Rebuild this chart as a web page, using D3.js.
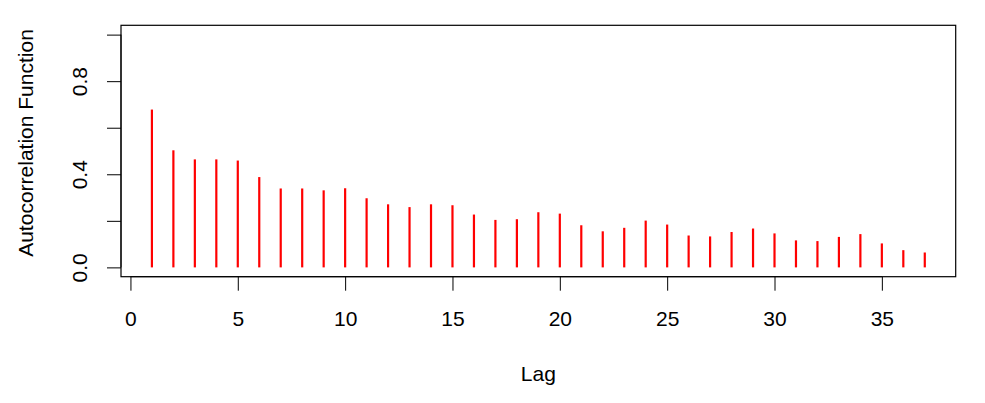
<!DOCTYPE html>
<html lang="en">
  <head>
    <meta charset="UTF-8" />
    <title>Autocorrelation Function</title>
    <script src="https://d3js.org/d3.v7.min.js"></script>
    <style>
      body {
        margin: 0;
        background: #fff;
      }
      text {
        font-family: "Liberation Sans", Arial, sans-serif;
        font-size: 21px;
        fill: #000;
      }
    </style>
  </head>
  <body>
    <svg id="acf" width="985" height="403"></svg>
    <script>
      // ACF values
      const lags = d3.range(1, 38);
      const acf = [
        0.678, 0.503, 0.464, 0.464, 0.459, 0.388, 0.339, 0.339, 0.331, 0.34,
        0.297, 0.271, 0.259, 0.271, 0.267, 0.227, 0.204, 0.207, 0.237, 0.231,
        0.181, 0.155, 0.17, 0.201, 0.184, 0.137, 0.133, 0.152, 0.167, 0.146,
        0.116, 0.113, 0.131, 0.143, 0.103, 0.074, 0.064
      ];
      const xTicks = [0, 5, 10, 15, 20, 25, 30, 35];
      const yTicks = [0, 0.2, 0.4, 0.6, 0.8, 1.0];
      const yTickLabels = ["0.0", "", "0.4", "", "0.8", ""];

      const width = 985;
      const height = 403;
      const margin = { top: 25.3, right: 29.3, bottom: 126.3, left: 121 };

      const svg = d3.select("#acf");

      // R style 4% extension of the ranges
      const x = d3
        .scaleLinear()
        .domain([1 - 36 * 0.04, 37 + 36 * 0.04])
        .range([margin.left, width - margin.right]);
      const y = d3
        .scaleLinear()
        .domain([-0.04, 1.04])
        .range([height - margin.bottom, margin.top]);

      // vertical lines (type = "h")
      svg
        .append("g")
        .selectAll("line")
        .data(lags)
        .join("line")
        .attr("x1", (d) => x(d))
        .attr("x2", (d) => x(d))
        .attr("y1", y(0))
        .attr("y2", (d, i) => y(acf[i]))
        .attr("stroke", "#ff0000")
        .attr("stroke-width", 2.2);

      // x axis
      const xAxis = svg
        .append("g")
        .attr("transform", `translate(0,${height - margin.bottom})`)
        .call(d3.axisBottom(x).tickValues(xTicks).tickSize(14).tickPadding(20).tickFormat(d3.format("d")));
      xAxis.select(".domain").attr("d", `M${x(0)},0H${x(35)}`);
      xAxis.selectAll("text").attr("font-size", 21).attr("font-family", null);

      // y axis
      const yAxis = svg
        .append("g")
        .attr("transform", `translate(${margin.left},0)`)
        .call(d3.axisLeft(y).tickValues(yTicks).tickSize(14).tickFormat((d, i) => yTickLabels[i]));
      yAxis.select(".domain").attr("d", `M0,${y(0)}V${y(1)}`);
      yAxis
        .selectAll(".tick text")
        .attr("font-size", 21)
        .attr("font-family", null)
        .attr("x", null)
        .attr("dy", null)
        .attr("text-anchor", "middle")
        .attr("transform", "translate(-34,0) rotate(-90)");

      svg.selectAll(".tick line, .domain").attr("stroke", "#000");

      // box
      svg
        .append("rect")
        .attr("x", margin.left)
        .attr("y", margin.top)
        .attr("width", width - margin.left - margin.right)
        .attr("height", height - margin.top - margin.bottom)
        .attr("fill", "none")
        .attr("stroke", "#000")
        .attr("stroke-width", 1.2);

      // axis titles
      svg
        .append("text")
        .attr("x", (margin.left + width - margin.right) / 2)
        .attr("y", 381)
        .attr("text-anchor", "middle")
        .text("Lag");

      svg
        .append("text")
        .attr("transform", `translate(33.3,143) rotate(-90)`)
        .attr("text-anchor", "middle")
        .text("Autocorrelation Function");
    </script>
  </body>
</html>
